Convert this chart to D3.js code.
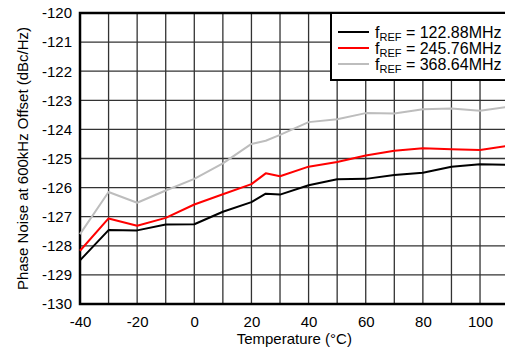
<!DOCTYPE html>
<html><head><meta charset="utf-8">
<script src="https://cdn.jsdelivr.net/npm/d3@7"></script>
<style>body{margin:0;background:#fff}svg{display:block}text{font-family:"Liberation Sans",Arial,Helvetica,sans-serif}</style>
</head><body>
<svg id="c" width="505" height="351"></svg>
<script>
const temps = [-40,-30,-20,-10,0,10,20,25,30,40,50,60,70,80,90,100,110];
const pn122 = [-128.5,-127.46,-127.47,-127.27,-127.26,-126.83,-126.5,-126.21,-126.24,-125.92,-125.71,-125.7,-125.57,-125.49,-125.28,-125.2,-125.22];
const pn245 = [-128.17,-127.06,-127.31,-127.04,-126.58,-126.23,-125.88,-125.51,-125.61,-125.28,-125.12,-124.9,-124.73,-124.65,-124.68,-124.71,-124.56];
const pn368 = [-127.6,-126.15,-126.52,-126.1,-125.7,-125.17,-124.5,-124.39,-124.19,-123.75,-123.65,-123.44,-123.45,-123.31,-123.28,-123.36,-123.22];
const seriesNames = ["122.88MHz","245.76MHz","368.64MHz"];
const seriesColors = ["#000000","#ff0000","#bdbdbd"];
const xTicks = [-40,-20,0,20,40,60,80,100];
const yTicks = [-120,-121,-122,-123,-124,-125,-126,-127,-128,-129,-130];

const FS = 15;
const svg = d3.select("#c");
const L=80, T=13, B=304;
const x = d3.scaleLinear().domain([-40,110]).range([L, L+428.6]);
const y = d3.scaleLinear().domain([-130,-120]).range([B, T]);
const R = x(110);

// grid
const g = svg.append("g");
d3.range(-30,111,10).forEach(v=>{
  g.append("line").attr("x1",x(v)).attr("x2",x(v)).attr("y1",T).attr("y2",B)
   .attr("stroke","#333").attr("stroke-width",1.3);
});
yTicks.forEach(v=>{
  g.append("line").attr("x1",L).attr("x2",R).attr("y1",y(v)).attr("y2",y(v))
   .attr("stroke","#333").attr("stroke-width",1.3);
});
// frame
svg.append("rect").attr("x",L).attr("y",T).attr("width",R-L).attr("height",B-T)
  .attr("fill","none").attr("stroke","#000").attr("stroke-width",2.5);

// y axis labels
const yAxis = d3.axisLeft(y).tickValues(yTicks).tickSize(0).tickPadding(8).tickFormat(d=>String(d));
const ya = svg.append("g").attr("transform",`translate(${L},0)`).call(yAxis);
ya.select(".domain").remove();
ya.selectAll("text").attr("font-size",FS).attr("fill","#000").attr("font-family",'"Liberation Sans",Arial,sans-serif');

const xAxis = d3.axisBottom(x).tickValues(xTicks).tickSize(0).tickPadding(12).tickFormat(d=>String(d));
const xa = svg.append("g").attr("transform",`translate(0,${B})`).call(xAxis);
xa.select(".domain").remove();
xa.selectAll("text").attr("font-size",FS).attr("fill","#000").attr("font-family",'"Liberation Sans",Arial,sans-serif');

// lines
const data = [pn122, pn245, pn368];
const line = d3.line().x((d,i)=>x(temps[i])).y(d=>y(d));
[2,1,0].forEach(k=>{
  svg.append("path").datum(data[k]).attr("d",line).attr("fill","none")
    .attr("stroke",seriesColors[k]).attr("stroke-width",2).attr("stroke-linejoin","round");
});

// axis titles
svg.append("text").attr("x",(L+R)/2).attr("y",344).attr("text-anchor","middle")
  .attr("font-size",FS).text("Temperature (°C)");
svg.append("text").attr("transform",`translate(28,${(T+B)/2}) rotate(-90)`).attr("text-anchor","middle")
  .attr("font-size",FS).text("Phase Noise at 600kHz Offset (dBc/Hz)");

// legend
const lg = svg.append("g");
lg.append("rect").attr("x",331).attr("y",13).attr("width",190).attr("height",67)
  .attr("fill","#fff").attr("stroke","#000").attr("stroke-width",2);
seriesNames.forEach((n,i)=>{
  const yy = 32 + i*16;
  lg.append("line").attr("x1",338).attr("x2",369).attr("y1",yy).attr("y2",yy)
    .attr("stroke",seriesColors[i]).attr("stroke-width",2);
  const t = lg.append("text").attr("x",375).attr("y",yy+5.5).attr("font-size",16);
  t.append("tspan").text("f");
  t.append("tspan").attr("font-size",11).attr("dy",3).text("REF");
  t.append("tspan").attr("dy",-3).text(" = " + n);
});
</script>
</body></html>
